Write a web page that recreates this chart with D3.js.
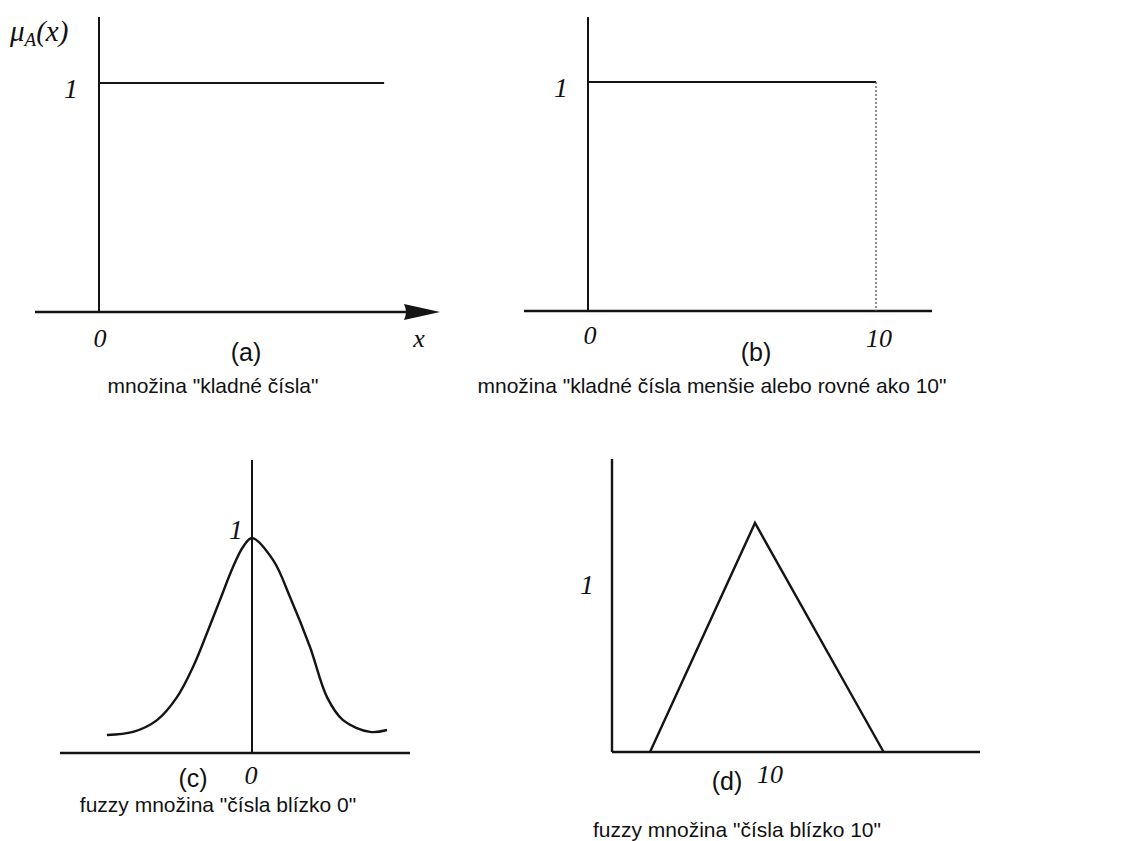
<!DOCTYPE html>
<html>
<head>
<meta charset="utf-8">
<script src="https://cdn.jsdelivr.net/npm/d3@7"></script>
<style>
  html, body { margin: 0; padding: 0; background: #fff; }
  svg { display: block; }
  .sans { font-family: "Liberation Sans", Arial, sans-serif; fill: #111; }
  .serif { font-family: "Liberation Serif", "Times New Roman", serif; font-style: italic; fill: #111; }
</style>
</head>
<body>
<svg id="fig" width="1128" height="841"></svg>
<script>
// Membership functions of four example sets
// (a) crisp set of positive numbers: mu = 1 for x >= 0
const crispPosX = [0, 9.9];
const crispPosMu = [1, 1];
// (b) crisp set of positive numbers up to 10
const crispTenX = [0, 10];
const crispTenMu = [1, 1];
// (c) fuzzy set "numbers near 0" (bell shaped)
const bellX  = [-14.5, -11.9, -9.5, -7.5, -5.9, -4.5, -3.2, -1.9, -0.9, 0, 2.1, 3.8, 5.8, 7.5, 9.1, 11.8, 13.5];
const bellMu = [0.084, 0.098, 0.153, 0.26, 0.40, 0.558, 0.712, 0.865, 0.958, 1, 0.898, 0.726, 0.493, 0.26, 0.153, 0.098, 0.107];
// (d) fuzzy set "numbers near 10" (triangular)
const triX  = [6, 10, 14.9];
const triMu = [0, 1, 0];

// tick labels per panel
const ticksA = [0];
const ticksB = [0, 10];
const ticksC = [0];
const ticksD = [10];

const tags = ["(a)", "(b)", "(c)", "(d)"];
const captions = [
  "množina \"kladné čísla\"",
  "množina \"kladné čísla menšie alebo rovné ako 10\"",
  "fuzzy množina \"čísla blízko 0\"",
  "fuzzy množina \"čísla blízko 10\""
];

const svg = d3.select("#fig");
const ink = "#141414";
const capSize = 21, tagSize = 25, numSize = 26;

function pts(xs, ys) { return xs.map((x, i) => [x, ys[i]]); }

function axisLines(g, x, y, xLo, xHi, yTop) {
  g.append("line").attr("x1", x(xLo)).attr("x2", x(xHi)).attr("y1", y(0)).attr("y2", y(0))
    .attr("stroke", ink).attr("stroke-width", 2.4);
  g.append("line").attr("x1", x(0)).attr("x2", x(0)).attr("y1", y(0)).attr("y2", y(yTop))
    .attr("stroke", ink).attr("stroke-width", 2);
}

function numLabel(g, px, py, txt, anchor, size) {
  g.append("text").attr("class", "serif").attr("x", px).attr("y", py)
    .attr("text-anchor", anchor || "middle").attr("font-size", size || numSize).text(txt);
}

function sansLabel(g, px, py, txt, size, anchor) {
  g.append("text").attr("class", "sans").attr("x", px).attr("y", py)
    .attr("text-anchor", anchor || "middle").attr("font-size", size).text(txt);
}

const line = d3.line().x(d => d[0]).y(d => d[1]);

// ---------- (a) ----------
{
  const g = svg.append("g");
  const x = d3.scaleLinear().domain([0, 10]).range([99, 387]);
  const y = d3.scaleLinear().domain([0, 1]).range([312, 83]);
  const xLo = x.invert(35), xHi = x.invert(410), yTop = y.invert(17);
  axisLines(g, x, y, xLo, xHi, yTop);
  // arrow head at the end of the x axis
  const tipX = 440, baseX = 404, cy = y(0);
  g.append("path").attr("d", `M${baseX},${cy - 8}L${tipX},${cy}L${baseX},${cy + 8}Q${baseX + 4},${cy} ${baseX},${cy - 8}Z`)
    .attr("fill", ink);
  g.append("path").attr("d", line(pts(crispPosX, crispPosMu).map(d => [x(d[0]), y(d[1])])))
    .attr("fill", "none").attr("stroke", ink).attr("stroke-width", 2);
  ticksA.forEach(t => numLabel(g, x(t) + 1, 347, t));
  numLabel(g, 419, 347, "x");
  numLabel(g, 78, 98, "1", "end", 28);
  // axis title mu_A(x)
  const t = g.append("text").attr("class", "serif").attr("x", 10).attr("y", 41).attr("font-size", 29);
  t.append("tspan").text("μ");
  t.append("tspan").attr("dy", 5).attr("font-size", 19).text("A");
  t.append("tspan").attr("dy", -5).text("(x)");
  sansLabel(g, 246, 361, tags[0], tagSize);
  sansLabel(g, 213, 393, captions[0], capSize);
}

// ---------- (b) ----------
{
  const g = svg.append("g");
  const x = d3.scaleLinear().domain([0, 10]).range([588, 876]);
  const y = d3.scaleLinear().domain([0, 1]).range([311, 82]);
  axisLines(g, x, y, x.invert(524), x.invert(932), y.invert(17));
  const p = pts(crispTenX, crispTenMu);
  g.append("path").attr("d", line(p.map(d => [x(d[0]), y(d[1])])))
    .attr("fill", "none").attr("stroke", ink).attr("stroke-width", 2);
  // dotted drop at the upper bound
  const last = p[p.length - 1];
  g.append("line").attr("x1", x(last[0])).attr("x2", x(last[0])).attr("y1", y(last[1])).attr("y2", y(0))
    .attr("stroke", "#555").attr("stroke-width", 1.3).attr("stroke-dasharray", "2,2");
  ticksB.forEach(t => numLabel(g, x(t) + (t === 0 ? 2 : 3), t === 0 ? 344 : 347, t));
  numLabel(g, 568, 97, "1", "end", 28);
  sansLabel(g, 756, 361, tags[1], tagSize);
  sansLabel(g, 712, 393, captions[1], capSize);
}

// ---------- (c) ----------
{
  const g = svg.append("g");
  const x = d3.scaleLinear().domain([0, 10]).range([252, 352]);
  const y = d3.scaleLinear().domain([0, 1]).range([753, 538]);
  axisLines(g, x, y, x.invert(60), x.invert(410), y.invert(460));
  g.append("path")
    .attr("d", d3.line().x(d => x(d[0])).y(d => y(d[1])).curve(d3.curveCatmullRom.alpha(0.5))(pts(bellX, bellMu)))
    .attr("fill", "none").attr("stroke", ink).attr("stroke-width", 2.4);
  ticksC.forEach(t => numLabel(g, x(t) - 1, 784, t));
  numLabel(g, 243, 539, "1", "end", 28);
  sansLabel(g, 193, 787, tags[2], tagSize);
  sansLabel(g, 218, 812, captions[2], capSize);
}

// ---------- (d) ----------
{
  const g = svg.append("g");
  const x = d3.scaleLinear().domain([6, 10]).range([650, 755]);
  const y = d3.scaleLinear().domain([0, 1]).range([752, 523]);
  // y axis sits at the left end of the x range
  const xAxis0 = x.invert(612), xAxis1 = x.invert(980);
  g.append("line").attr("x1", x(xAxis0)).attr("x2", x(xAxis1)).attr("y1", y(0)).attr("y2", y(0))
    .attr("stroke", ink).attr("stroke-width", 2.4);
  g.append("line").attr("x1", x(xAxis0)).attr("x2", x(xAxis0)).attr("y1", y(0)).attr("y2", y(y.invert(459)))
    .attr("stroke", ink).attr("stroke-width", 2.4);
  g.append("path").attr("d", line(pts(triX, triMu).map(d => [x(d[0]), y(d[1])])))
    .attr("fill", "none").attr("stroke", ink).attr("stroke-width", 2.4).attr("stroke-linejoin", "miter");
  ticksD.forEach(t => numLabel(g, x(t) + 15, 783, t));
  numLabel(g, 594, 594, "1", "end", 28);
  sansLabel(g, 727, 790, tags[3], tagSize);
  sansLabel(g, 737, 837, captions[3], capSize);
}
</script>
</body>
</html>
